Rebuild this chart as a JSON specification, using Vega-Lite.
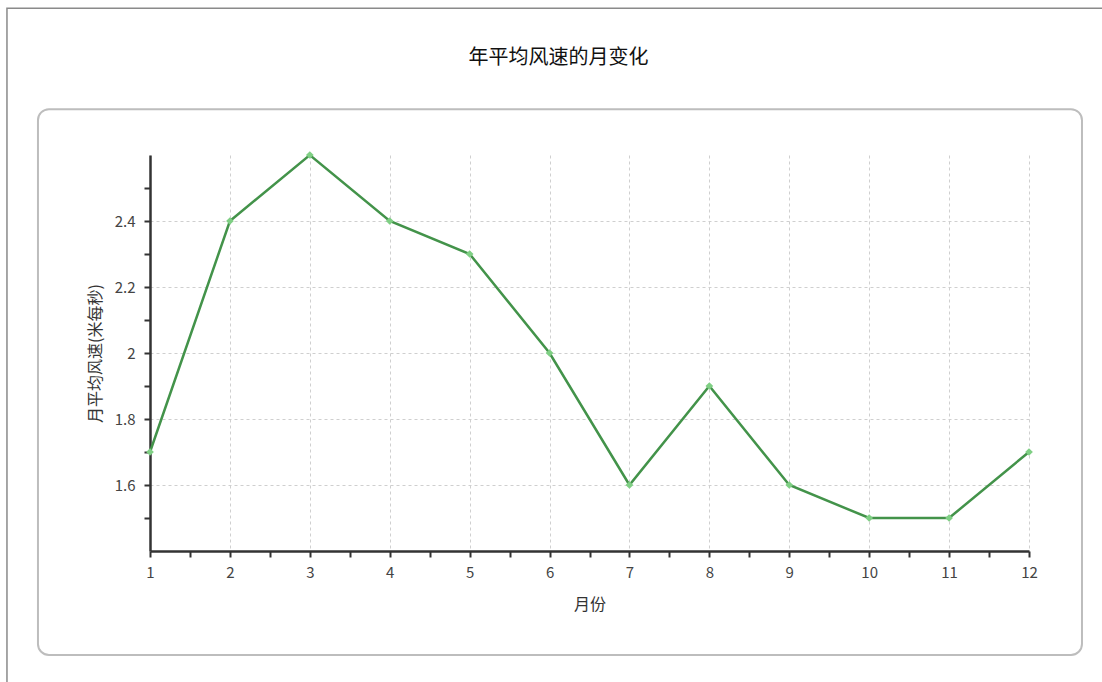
{
  "$schema": "https://vega.github.io/schema/vega-lite/v6.json",
  "width": 879,
  "height": 396,
  "autosize": "none",
  "padding": {"left": 150, "top": 155, "right": 73, "bottom": 131},
  "background": "white",
  "title": {
    "text": "年平均风速的月变化",
    "fontSize": 20,
    "font": "Noto Sans CJK SC",
    "fontWeight": "normal",
    "color": "#111",
    "frame": "group",
    "anchor": "middle",
    "offset": -61,
    "dx": -31
  },
  "config": {
    "view": {"stroke": null},
    "font": "Noto Sans CJK SC"
  },
  "datasets": {
    "frames": [
      {"name": "outer", "x1": -0.79, "x2": 13.14, "y1": 3.045, "y2": 0.948},
      {"name": "panel", "x1": -0.402, "x2": 12.663, "y1": 2.739, "y2": 1.085}
    ],
    "wind": [
      {"month": 1, "speed": 1.7},
      {"month": 2, "speed": 2.4},
      {"month": 3, "speed": 2.6},
      {"month": 4, "speed": 2.4},
      {"month": 5, "speed": 2.3},
      {"month": 6, "speed": 2.0},
      {"month": 7, "speed": 1.6},
      {"month": 8, "speed": 1.9},
      {"month": 9, "speed": 1.6},
      {"month": 10, "speed": 1.5},
      {"month": 11, "speed": 1.5},
      {"month": 12, "speed": 1.7}
    ]
  },
  "layer": [
    {
      "data": {"name": "frames"},
      "transform": [{"filter": "datum.name == 'outer'"}],
      "mark": {"type": "rect", "fill": null, "filled": false, "stroke": "#8a8a8a", "strokeWidth": 1.5},
      "encoding": {
        "x": {"field": "x1", "type": "quantitative", "title": "月份", "scale": {"domain": [1, 12], "nice": false, "zero": false}},
        "x2": {"field": "x2"},
        "y": {"field": "y1", "type": "quantitative", "title": "月平均风速(米每秒)", "scale": {"domain": [1.4, 2.6], "nice": false, "zero": false}},
        "y2": {"field": "y2"}
      }
    },
    {
      "data": {"name": "frames"},
      "transform": [{"filter": "datum.name == 'panel'"}],
      "mark": {"type": "rect", "fill": null, "filled": false, "stroke": "#bdbdbd", "strokeWidth": 2, "cornerRadius": 11},
      "encoding": {
        "x": {"field": "x1", "type": "quantitative", "title": "月份"},
        "x2": {"field": "x2"},
        "y": {"field": "y1", "type": "quantitative", "title": "月平均风速(米每秒)"},
        "y2": {"field": "y2"}
      }
    },
    {
      "data": {"name": "wind"},
      "mark": {"type": "line", "color": "#43934a", "strokeWidth": 2.5,
               "point": {"shape": "diamond", "size": 60, "filled": true, "color": "#7fcf84"}},
      "encoding": {
        "x": {
          "field": "month", "type": "quantitative", "title": "月份",
          "axis": {
            "values": [1, 1.5, 2, 2.5, 3, 3.5, 4, 4.5, 5, 5.5, 6, 6.5, 7, 7.5, 8, 8.5, 9, 9.5, 10, 10.5, 11, 11.5, 12],
            "tickCount": 100,
            "labelExpr": "datum.value % 1 == 0 ? '' + datum.value : ''",
            "labelOverlap": false,
            "labelFlush": false,
            "labelFontSize": 15,
            "labelColor": "#444",
            "labelPadding": 8,
            "domainColor": "#333",
            "domainWidth": 2.5,
            "tickColor": "#333",
            "tickWidth": 2,
            "tickSize": 6,
            "grid": true,
            "gridColor": "#cfcfcf",
            "gridDash": [3, 3],
            "gridWidth": 1,
            "gridOpacity": {"condition": {"test": "datum.value % 1 == 0", "value": 1}, "value": 0},
            "titleFontSize": 16,
            "titleFontWeight": "normal",
            "titleColor": "#333",
            "titlePadding": 16
          }
        },
        "y": {
          "field": "speed", "type": "quantitative", "title": "月平均风速(米每秒)",
          "axis": {
            "values": [1.5, 1.6, 1.7, 1.8, 1.9, 2, 2.1, 2.2, 2.3, 2.4, 2.5],
            "tickCount": 100,
            "labelExpr": "round(datum.value * 10) % 2 == 0 ? '' + (round(datum.value * 10) / 10) : ''",
            "labelOverlap": false,
            "labelFlush": false,
            "labelFontSize": 15,
            "labelColor": "#444",
            "labelPadding": 9,
            "domainColor": "#333",
            "domainWidth": 2.5,
            "tickColor": "#333",
            "tickWidth": 2,
            "tickSize": 6,
            "grid": true,
            "gridColor": "#cfcfcf",
            "gridDash": [3, 3],
            "gridWidth": 1,
            "gridOpacity": {"condition": {"test": "round(datum.value * 10) % 2 == 0", "value": 1}, "value": 0},
            "titleFontSize": 16,
            "titleFontWeight": "normal",
            "titleColor": "#333",
            "titlePadding": 11
          }
        }
      }
    }
  ]
}
